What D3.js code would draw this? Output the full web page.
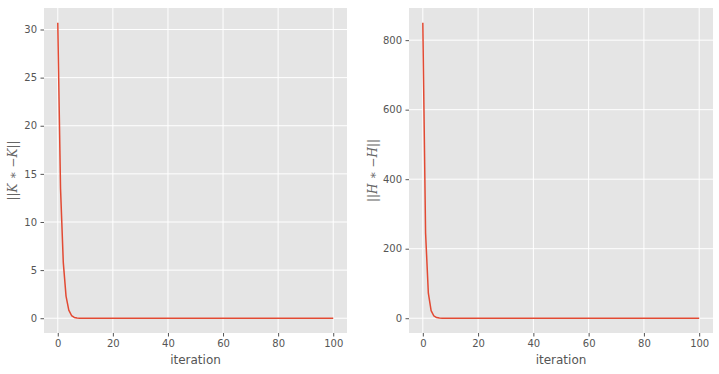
<!DOCTYPE html>
<html><head><meta charset="utf-8">
<script src="https://cdn.jsdelivr.net/npm/d3@7"></script>
<style>
body{margin:0;background:#fff;}
text{font-family:"DejaVu Sans",sans-serif;}
</style></head>
<body><svg id="c" width="719" height="374"></svg>
<script>
// Data
const kHead = [30.7, 13.5, 5.8, 2.3, 0.85, 0.28, 0.08, 0.02, 0.005];
const hHead = [850, 245, 72, 22, 6.5, 1.9, 0.55, 0.15, 0.04, 0.01];
const nIter = 101;
const kValues = d3.range(nIter).map(i => i < kHead.length ? kHead[i] : 0);
const hValues = d3.range(nIter).map(i => i < hHead.length ? hHead[i] : 0);
const xTicks = [0, 20, 40, 60, 80, 100];
const kTicks = [0, 5, 10, 15, 20, 25, 30];
const hTicks = [0, 200, 400, 600, 800];
const xLabel = "iteration";
const kLabel = ["K", "K"];
const hLabel = ["H", "H"];

const svg = d3.select("#c");

function panel(left, right, values, yTicks, letters, labelOffset) {
  const top = 8, bottom = 333;
  const n = values.length;
  const xmin = 0, xmax = n - 1;
  const xm = (xmax - xmin) * 0.05;
  const ymax = d3.max(values), ymin = d3.min(values);
  const ym = (ymax - ymin) * 0.05;
  const x = d3.scaleLinear().domain([xmin - xm, xmax + xm]).range([left, right]);
  const y = d3.scaleLinear().domain([ymin - ym, ymax + ym]).range([bottom, top]);
  const g = svg.append("g");
  g.append("rect").attr("x", left).attr("y", top).attr("width", right - left).attr("height", bottom - top).attr("fill", "#E5E5E5");
  g.selectAll(".gx").data(xTicks).join("line")
    .attr("x1", d => x(d)).attr("x2", d => x(d)).attr("y1", top).attr("y2", bottom)
    .attr("stroke", "#fff").attr("stroke-width", 1);
  g.selectAll(".gy").data(yTicks).join("line")
    .attr("y1", d => y(d)).attr("y2", d => y(d)).attr("x1", left).attr("x2", right)
    .attr("stroke", "#fff").attr("stroke-width", 1);
  const xa = d3.axisBottom(x).tickValues(xTicks).tickSize(3.5).tickPadding(3.5).tickFormat(d3.format("d"));
  const ya = d3.axisLeft(y).tickValues(yTicks).tickSize(3.5).tickPadding(3.5).tickFormat(d3.format("d"));
  const gx = g.append("g").attr("transform", `translate(0,${bottom})`).call(xa);
  const gy = g.append("g").attr("transform", `translate(${left},0)`).call(ya);
  [gx, gy].forEach(a => {
    a.select(".domain").remove();
    a.selectAll("line").attr("stroke", "#555555");
    a.selectAll("text").attr("fill", "#555555").style("font-size", "10px").style("font-family", "DejaVu Sans");
  });
  g.append("path").datum(values)
    .attr("d", d3.line().x((d, i) => x(i)).y(d => y(d)))
    .attr("fill", "none").attr("stroke", "#E24A33").attr("stroke-width", 1.5)
    .attr("stroke-linejoin", "round");
  g.append("text").attr("x", (left + right) / 2).attr("y", 364).attr("text-anchor", "middle")
    .attr("fill", "#555555").style("font-size", "12px").text(xLabel);
  const lx = left - labelOffset, ly = (top + bottom) / 2;
  const t = g.append("text").attr("transform", `translate(${lx},${ly}) rotate(-90)`)
    .attr("text-anchor", "middle").attr("fill", "#666666")
    .style("font-size", "12px").style("font-family", "DejaVu Serif");
  t.append("tspan").text("||");
  t.append("tspan").style("font-style", "italic").text(letters[0]);
  t.append("tspan").text(" \u2217 \u2212");
  t.append("tspan").style("font-style", "italic").text(letters[1]);
  t.append("tspan").text("||");
}

panel(44, 347, kValues, kTicks, kLabel, 27);
panel(409, 713, hValues, hTicks, hLabel, 32);
</script></body></html>
